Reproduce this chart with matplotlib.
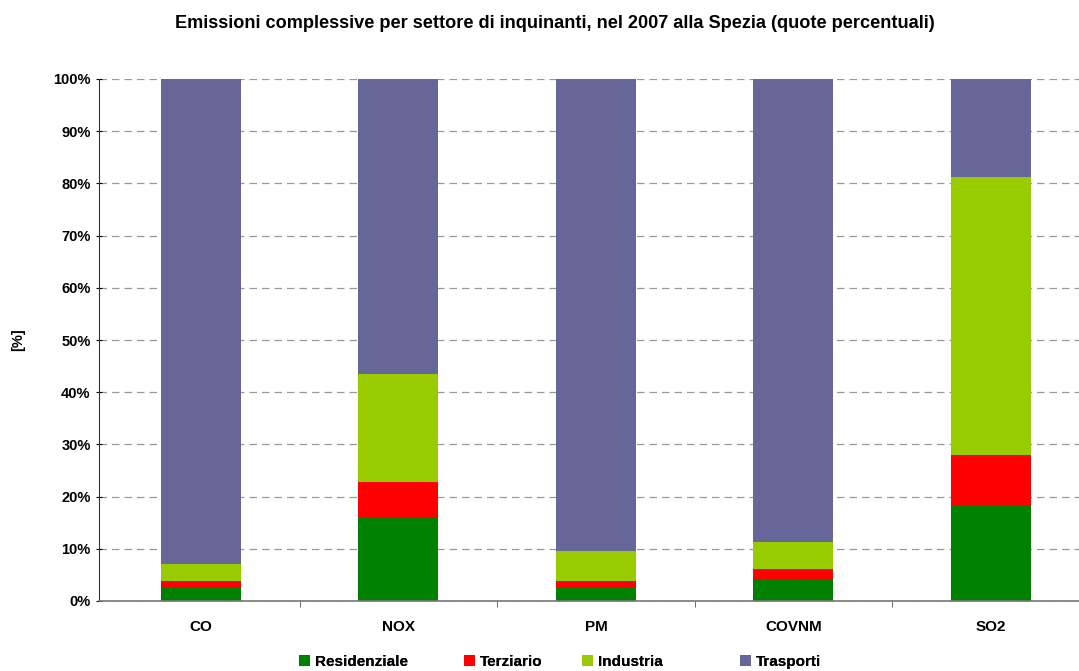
import numpy as np
import matplotlib
matplotlib.use("Agg")
import matplotlib.pyplot as plt
from matplotlib.ticker import PercentFormatter

# quote percentuali per inquinante (settore su totale)
inquinanti = ["CO", "NOX", "PM", "COVNM", "SO2"]
residenziale = [2.7, 16.1, 2.6, 4.2, 18.2]
terziario = [1.1, 6.7, 1.2, 1.9, 9.8]
industria = [3.3, 20.7, 5.8, 5.2, 53.2]
trasporti = [92.9, 56.5, 90.4, 88.7, 18.8]

serie = [
    ("Residenziale", residenziale, "#008000"),
    ("Terziario", terziario, "#ff0000"),
    ("Industria", industria, "#99cc00"),
    ("Trasporti", trasporti, "#666699"),
]

plt.rcParams["font.family"] = ["Liberation Sans", "DejaVu Sans"]
plt.rcParams["font.weight"] = "bold"

fig = plt.figure(figsize=(10.79, 6.71), dpi=100)
ax = fig.add_axes([99 / 1079, 70 / 671, 980 / 1079, 522 / 671])

x = np.arange(len(inquinanti))
base = np.zeros(len(inquinanti))
handles = []
for nome, vals, col in serie:
    b = ax.bar(x, vals, width=0.405, bottom=base, color=col, label=nome, zorder=2)
    handles.append(b)
    base += np.array(vals)

ax.set_ylim(0, 100)
ax.set_xlim(-0.516, 4.446)
ax.set_yticks(np.arange(0, 101, 10))
ax.yaxis.set_major_formatter(PercentFormatter(decimals=0))
ax.set_xticks(x, labels=inquinanti)
ax.set_xticks(np.arange(0.5, 4.5, 1), minor=True)
ax.tick_params(axis="x", which="major", length=0, pad=14, labelsize=11)
ax.tick_params(axis="x", which="minor", length=4, direction="out", color="#555555")
ax.tick_params(axis="y", length=4, direction="inout", labelsize=10.5, pad=4)
ax.grid(axis="y", color="#999999", linestyle=(0, (6, 4)), linewidth=0.9, zorder=0)

for s in ("top", "right"):
    ax.spines[s].set_visible(False)
ax.spines["left"].set_color("#333333")
ax.spines["bottom"].set_color("#777777")
ax.spines["bottom"].set_linewidth(1.2)

ax.set_ylabel("[%]", fontsize=10.5, fontweight="bold", va="center")
ax.yaxis.set_label_coords(-0.083, 0.5)
fig.text(555 / 1079, 1 - 23 / 671, "Emissioni complessive per settore di inquinanti, nel 2007 alla Spezia (quote percentuali)",
         ha="center", va="center", fontsize=13.1, fontweight="bold")

# legenda in basso, una voce per volta
leg_x = [294, 459, 577, 735]
for h, (nome, _, _), lx in zip(handles, serie, leg_x):
    leg = fig.legend([h], [nome], loc="center left", bbox_to_anchor=(lx / 1079, 1 - 662 / 671),
                     frameon=False, fontsize=11, handlelength=0.75, handleheight=0.75,
                     handletextpad=0.3, borderaxespad=0, borderpad=0.3)
    fig.add_artist(leg)

fig.savefig("out.png", dpi=100)
